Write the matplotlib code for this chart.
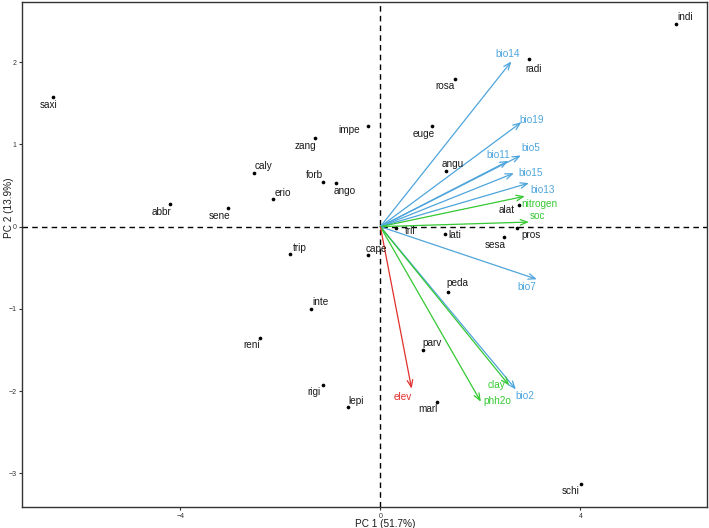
import matplotlib
matplotlib.use("Agg")
import matplotlib.pyplot as plt

plt.rcParams['font.family'] = ['Liberation Sans', 'DejaVu Sans']

# Species scores (PC1, PC2)
species = ["saxi", "abbr", "sene", "caly", "erio", "zang", "forb", "ango", "trip",
           "impe", "euge", "rosa", "radi", "indi", "angu", "alat", "pros", "sesa",
           "lati", "tril", "cape", "inte", "reni", "rigi", "lepi", "peda", "parv",
           "marl", "schi"]
pc1 = [-6.54, -4.205, -3.04, -2.52, -2.14, -1.30, -1.14, -0.89, -1.81,
       -0.25, 1.04, 1.49, 2.98, 5.91, 1.32, 2.77, 2.73, 2.48,
       1.30, 0.31, -0.25, -1.38, -2.40, -1.14, -0.64, 1.36, 0.845,
       1.14, 4.01]
pc2 = [1.575, 0.275, 0.23, 0.65, 0.34, 1.077, 0.54, 0.53, -0.33,
       1.22, 1.22, 1.79, 2.04, 2.46, 0.68, 0.26, -0.02, -0.12,
       -0.085, -0.02, -0.34, -1.00, -1.357, -1.925, -2.195, -0.80, -1.50,
       -2.13, -3.135]

# Environmental vectors
variables = ["bio14", "bio19", "bio5", "bio11", "bio15", "bio13", "nitrogen", "soc",
             "bio7", "bio2", "clay", "phh2o", "elev"]
var_pc1 = [2.62, 2.82, 2.81, 2.56, 2.67, 2.97, 2.89, 2.97, 3.13, 2.71, 2.575, 2.01, 0.625]
var_pc2 = [2.01, 1.27, 0.866, 0.80, 0.65, 0.53, 0.37, 0.056, -0.64, -1.98, -1.93, -2.13, -1.97]
var_group = ["climate", "climate", "climate", "climate", "climate", "climate", "soil", "soil",
             "climate", "climate", "soil", "soil", "topo"]

group_colors = {"climate": "#4ea5dc", "soil": "#34c832", "topo": "#e0302c"}

# label offsets (pixels) for species labels
sp_off = {"saxi": (-5, -8), "abbr": (-9, -8), "sene": (-9, -8), "caly": (9, 7),
          "erio": (10, 6), "zang": (-10, -8), "forb": (-9, 7), "ango": (9, -8),
          "trip": (10, 6), "impe": (-19, -4), "euge": (-9, -8), "rosa": (-10, -7),
          "radi": (4, -10), "indi": (9, 7), "angu": (6, 7), "alat": (-12, -5),
          "pros": (14, -7), "sesa": (-9, -8), "lati": (9, -1), "tril": (14, -3),
          "cape": (9, 6), "inte": (9, 7), "reni": (-9, -7), "rigi": (-9, -7),
          "lepi": (8, 6), "peda": (9, 9), "parv": (9, 7), "marl": (-9, -7),
          "schi": (-10, -7)}
var_off = {"bio14": (-4, 7), "bio19": (10, 2), "bio5": (10, 7), "bio11": (-10, 6),
           "bio15": (17, 0), "bio13": (14, -7), "nitrogen": (14, -8), "soc": (9, 6),
           "bio7": (-10, -8), "bio2": (9, -7), "clay": (-13, 0), "phh2o": (16, 1),
           "elev": (-9, -8)}

fig = plt.figure(figsize=(7.09, 5.28), dpi=100)
ax = fig.add_axes([0.0315, 0.0398, 0.9655, 0.956])

ax.set_xlim(-7.16, 6.53)
ax.set_ylim(-3.41, 2.73)

ax.axhline(0, color="black", ls=(0, (4, 3)), lw=1.0, zorder=1)
ax.axvline(0, color="black", ls=(0, (4, 3)), lw=1.0, zorder=1)

px2pt = 72 / 100.0

ax.scatter(pc1, pc2, s=7, color="black", zorder=3, linewidths=0)
for name, x, y in zip(species, pc1, pc2):
    dx, dy = sp_off[name]
    ax.annotate(name, (x, y), xytext=(dx * px2pt, dy * px2pt), textcoords="offset points",
                ha="center", va="center", fontsize=7.2, color="#1a1a1a", zorder=4)

for name, x, y, g in zip(variables, var_pc1, var_pc2, var_group):
    c = group_colors[g]
    ax.annotate("", xy=(x, y), xytext=(0, 0),
                arrowprops=dict(arrowstyle="->,head_length=0.5,head_width=0.2",
                                color=c, lw=0.9, shrinkA=0, shrinkB=0), zorder=2)
    dx, dy = var_off[name]
    ax.annotate(name, (x, y), xytext=(dx * px2pt, dy * px2pt), textcoords="offset points",
                ha="center", va="center", fontsize=7.2, color=c, zorder=4)

ax.set_xticks([-4, 0, 4])
ax.set_yticks([-3, -2, -1, 0, 1, 2])
ax.tick_params(axis="both", labelsize=5, length=2.5, width=0.8, colors="#333333",
               labelcolor="#333333", pad=1.5)
for sp in ax.spines.values():
    sp.set_linewidth(1.0)
    sp.set_color("#333333")

ax.set_xlabel("PC 1 (51.7%)", fontsize=7.2, color="#1a1a1a")
ax.set_ylabel("PC 2 (13.9%)", fontsize=7.2, color="#1a1a1a")
ax.xaxis.set_label_coords(0.53, -0.023)
ax.yaxis.set_label_coords(-0.012, 0.592)

fig.savefig("out.png", dpi=100)
